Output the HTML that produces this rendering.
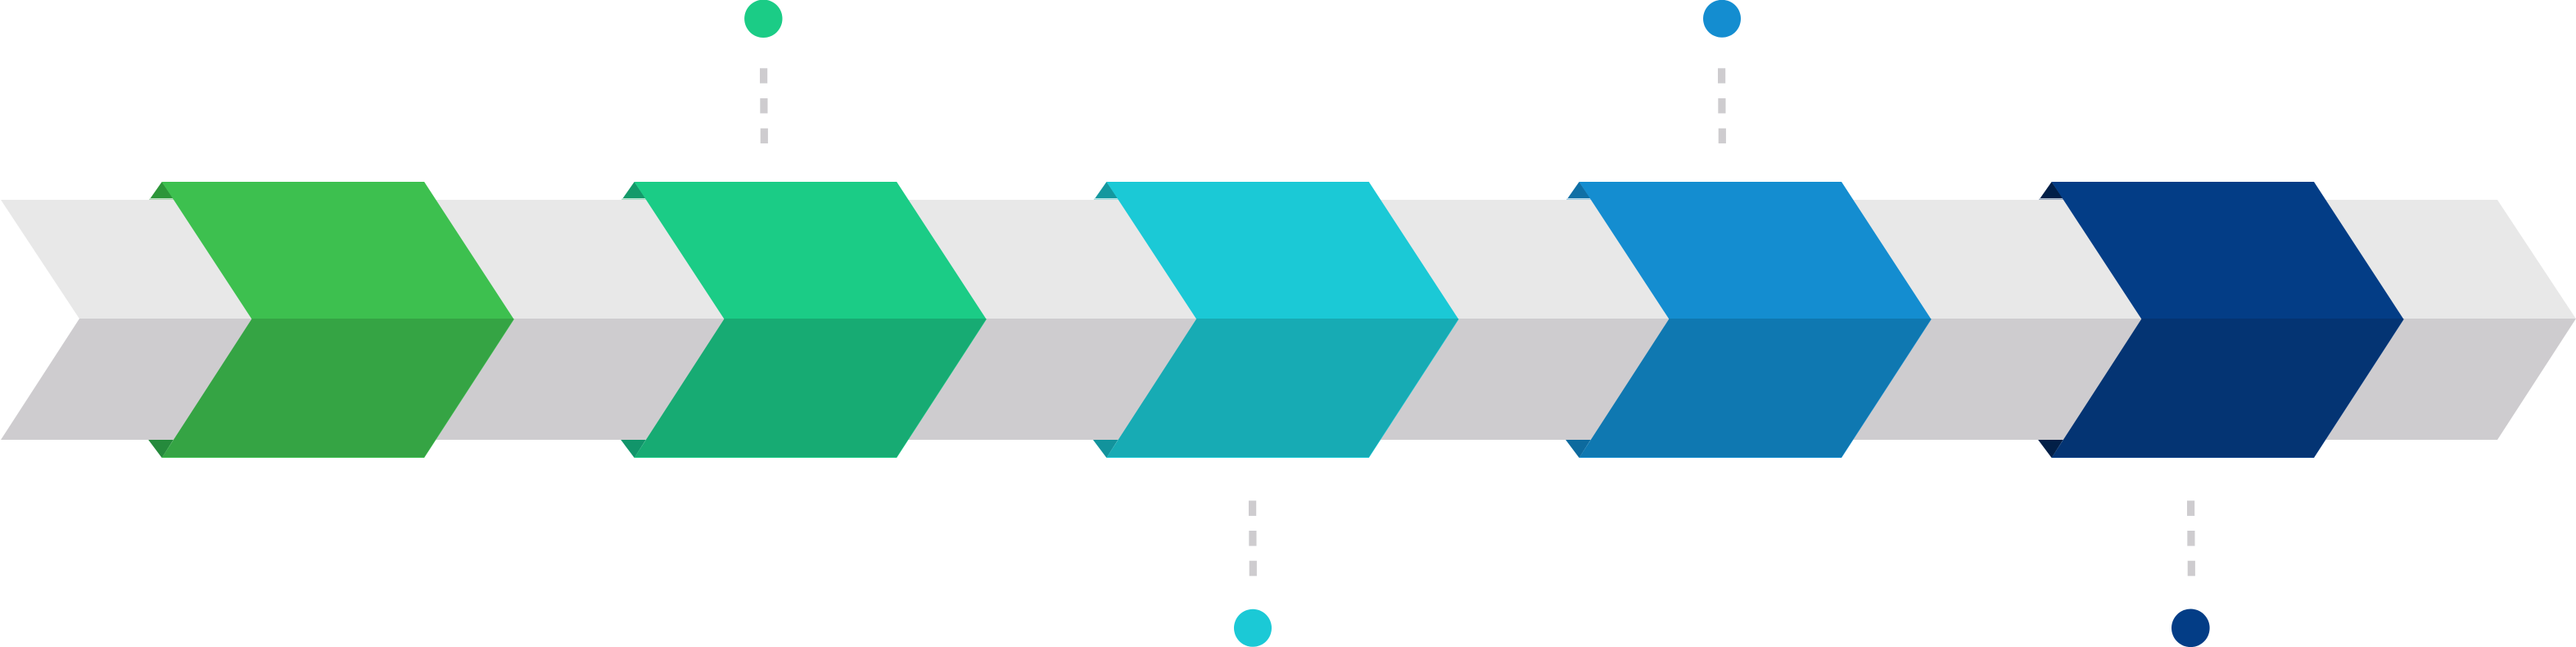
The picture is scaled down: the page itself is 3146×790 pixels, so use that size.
<!DOCTYPE html>
<html>
<head>
<meta charset="utf-8">
<style>
html,body{margin:0;padding:0;background:#fff;width:3146px;height:790px;overflow:hidden}
svg{display:block}
</style>
</head>
<body>
<svg width="3146" height="790" viewBox="0 0 3146 790" xmlns="http://www.w3.org/2000/svg">
<defs>
<g id="grey">
<polygon points="1,244 3050,244 3146,389.3 97,389.3" fill="#e8e8e8"/>
<polygon points="97,389 3146,389 3050,537 1,537" fill="#cecccf"/>
</g>
</defs>
<rect width="3146" height="790" fill="#fff"/>
<use href="#grey"/>

<!-- Step 1 -->
<g transform="translate(197.7 0)">
<polygon points="-14.8,242.3 13.8,242.3 14.4,244 -15.8,244" fill="#aed5b3"/>
<polygon points="0,222 -14,242 13.5,242" fill="#2c9639"/>
<polygon points="-16.5,537 14,537 0,559" fill="#258a3c"/>
<polygon points="0,222 320.4,222 430,390 320.4,559 0,559 110,390" fill="#3dc04f"/>
<polygon points="110,389 430,389 320.4,558 0.7,558" fill="#35a444"/>
</g>

<!-- Step 2 -->
<g transform="translate(774.7 0)">
<polygon points="-14.8,242.3 13.8,242.3 14.4,244 -15.8,244" fill="#a9dcc6"/>
<polygon points="0,222 -14,242 13.5,242" fill="#139a6a"/>
<polygon points="-16.5,537 14,537 0,559" fill="#11956a"/>
<polygon points="0,222 320.4,222 430,390 320.4,559 0,559 110,390" fill="#1bcc86"/>
<polygon points="110,389 430,389 320.4,558 0.7,558" fill="#17ab73"/>
</g>

<!-- Step 3 -->
<g transform="translate(1351.4 0)">
<polygon points="-14.8,242.3 13.8,242.3 14.4,244 -15.8,244" fill="#a6dbdd"/>
<polygon points="0,222 -14,242 13.5,242" fill="#14989f"/>
<polygon points="-16.5,537 14,537 0,559" fill="#12939c"/>
<polygon points="0,222 320.4,222 430,390 320.4,559 0,559 110,390" fill="#1bc9d6"/>
<polygon points="110,389 430,389 320.4,558 0.7,558" fill="#17abb4"/>
</g>

<!-- Step 4 -->
<g transform="translate(1928.6 0)">
<polygon points="-14.8,242.3 13.8,242.3 14.4,244 -15.8,244" fill="#a3cbe1"/>
<polygon points="0,222 -14,242 13.5,242" fill="#0f6fa5"/>
<polygon points="-16.5,537 14,537 0,559" fill="#0d6a9e"/>
<polygon points="0,222 320.4,222 430,390 320.4,559 0,559 110,390" fill="#148dd0"/>
<polygon points="110,389 430,389 320.4,558 0.7,558" fill="#0f78b1"/>
</g>

<!-- Step 5 -->
<g transform="translate(2505.6 0)">
<polygon points="-14.8,242.3 13.8,242.3 14.4,244 -15.8,244" fill="#9aa9bd"/>
<polygon points="0,222 -14,242 13.5,242" fill="#011f48"/>
<polygon points="-16.5,537 14,537 0,559" fill="#021f47"/>
<polygon points="0,222 320.4,222 430,390 320.4,559 0,559 110,390" fill="#033d86"/>
<polygon points="110,389 430,389 320.4,558 0.7,558" fill="#043473"/>
</g>

<!-- Top markers -->
<circle cx="932.3" cy="22.8" r="23.2" fill="#1bcc86"/>
<g fill="#cecccf">
<rect x="928" y="83.3" width="9.2" height="18.4"/>
<rect x="928.3" y="120" width="9.2" height="18.4"/>
<rect x="928.7" y="156.7" width="9.2" height="18.4"/>
</g>
<circle cx="2103" cy="22.8" r="23" fill="#148dd0"/>
<g fill="#cecccf">
<rect x="2098" y="83.3" width="9.2" height="18.4"/>
<rect x="2098.3" y="120" width="9.2" height="18.4"/>
<rect x="2098.7" y="156.7" width="9.2" height="18.4"/>
</g>

<!-- Bottom markers -->
<circle cx="1530" cy="766.8" r="23" fill="#1bc9d6"/>
<g fill="#cecccf">
<rect x="1525" y="611.3" width="9.2" height="18.6"/>
<rect x="1525.3" y="648" width="9.2" height="18.6"/>
<rect x="1525.7" y="684.7" width="9.2" height="18.6"/>
</g>
<circle cx="2675.3" cy="766.8" r="23.3" fill="#033d86"/>
<g fill="#cecccf">
<rect x="2671" y="611.3" width="9.2" height="18.6"/>
<rect x="2671.3" y="648" width="9.2" height="18.6"/>
<rect x="2671.7" y="684.7" width="9.2" height="18.6"/>
</g>
</svg>
</body>
</html>
